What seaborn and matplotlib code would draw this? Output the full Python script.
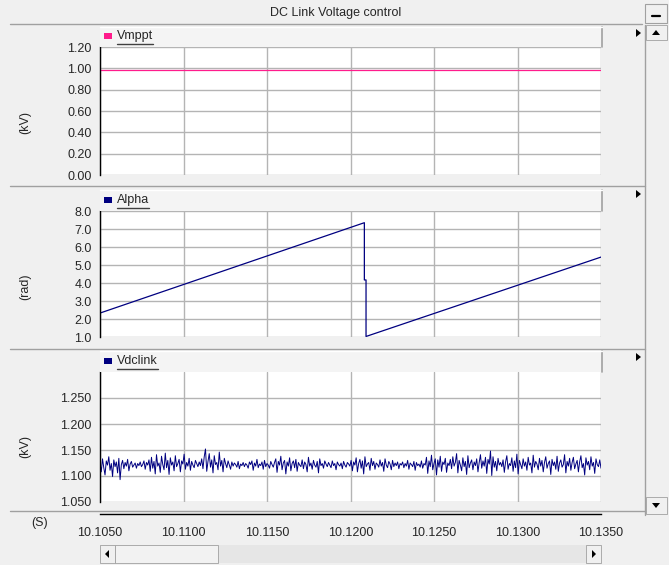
import numpy as np
import pandas as pd
import matplotlib
matplotlib.use("Agg")
import matplotlib.pyplot as plt
from matplotlib.patches import Rectangle, Polygon
from matplotlib.lines import Line2D
import seaborn as sns

# ---------------- data ----------------
title = "DC Link Voltage control"
x_ticks = [10.1050, 10.1100, 10.1150, 10.1200, 10.1250, 10.1300, 10.1350]

vmppt_t = [10.1050, 10.1350]
vmppt_v = [0.98, 0.98]

alpha_t = [10.1050, 10.12083, 10.12083, 10.12093, 10.12093, 10.1350]
alpha_v = [2.33, 7.35, 4.17, 4.17, 1.03, 5.44]

vdc_v = [
    1.125, 1.108, 1.133, 1.116, 1.102, 1.129, 1.121, 1.137, 1.111, 1.124, 1.099, 1.131, 1.118, 1.127, 1.106, 1.134, 1.093, 1.122, 1.130, 1.114,
    1.126, 1.119, 1.132, 1.110, 1.123, 1.128, 1.117, 1.121, 1.125, 1.115, 1.124, 1.120, 1.127, 1.118, 1.122, 1.129, 1.113, 1.126, 1.121, 1.131,
    1.109, 1.136, 1.115, 1.128, 1.104, 1.141, 1.119, 1.125, 1.107, 1.138, 1.122, 1.112, 1.144, 1.116, 1.130, 1.103, 1.135, 1.121, 1.127, 1.110,
    1.139, 1.118, 1.124, 1.132, 1.108, 1.129, 1.123, 1.142, 1.113, 1.126, 1.119, 1.134, 1.111, 1.128, 1.121, 1.116, 1.130, 1.124, 1.118, 1.127,
    1.120, 1.133, 1.114, 1.137, 1.152, 1.109, 1.128, 1.143, 1.117, 1.131, 1.106, 1.139, 1.122, 1.126, 1.112, 1.146, 1.119, 1.130, 1.108, 1.134,
    1.124, 1.116, 1.129, 1.121, 1.113, 1.127, 1.119, 1.125, 1.122, 1.117, 1.128, 1.114, 1.123, 1.120, 1.126, 1.118, 1.124, 1.121, 1.115, 1.127,
    1.122, 1.129, 1.111, 1.125, 1.119, 1.132, 1.116, 1.123, 1.120, 1.127, 1.113, 1.130, 1.118, 1.124, 1.121, 1.115, 1.128, 1.122, 1.117, 1.126,
    1.133, 1.107, 1.128, 1.121, 1.138, 1.112, 1.125, 1.130, 1.104, 1.127, 1.119, 1.135, 1.110, 1.124, 1.129, 1.116, 1.132, 1.109, 1.126, 1.121,
    1.118, 1.131, 1.114, 1.127, 1.122, 1.108, 1.136, 1.119, 1.125, 1.113, 1.130, 1.121, 1.117, 1.128, 1.106, 1.133, 1.120, 1.124, 1.115, 1.129,
    1.123, 1.118, 1.126, 1.121, 1.116, 1.129, 1.120, 1.124, 1.112, 1.127, 1.122, 1.119, 1.125, 1.114, 1.128, 1.121, 1.117, 1.126, 1.123, 1.119,
    1.130, 1.110, 1.127, 1.121, 1.135, 1.108, 1.124, 1.132, 1.115, 1.129, 1.104, 1.137, 1.118, 1.123, 1.126, 1.111, 1.134, 1.120, 1.128, 1.113,
    1.125, 1.122, 1.117, 1.131, 1.119, 1.126, 1.109, 1.133, 1.121, 1.116, 1.128, 1.123, 1.112, 1.130, 1.118, 1.125, 1.120, 1.127, 1.114, 1.124,
    1.121, 1.127, 1.116, 1.124, 1.119, 1.130, 1.113, 1.125, 1.122, 1.118, 1.128, 1.111, 1.126, 1.120, 1.123, 1.117, 1.129, 1.115, 1.124, 1.121,
    1.136, 1.105, 1.129, 1.118, 1.140, 1.112, 1.124, 1.133, 1.102, 1.131, 1.117, 1.138, 1.109, 1.127, 1.122, 1.134, 1.107, 1.125, 1.120, 1.132,
    1.114, 1.137, 1.119, 1.126, 1.143, 1.106, 1.130, 1.121, 1.110, 1.135, 1.118, 1.128, 1.103, 1.139, 1.116, 1.125, 1.131, 1.112, 1.127, 1.120,
    1.133, 1.108, 1.126, 1.141, 1.115, 1.129, 1.119, 1.136, 1.105, 1.132, 1.123, 1.148, 1.101, 1.137, 1.117, 1.128, 1.110, 1.134, 1.121, 1.126,
    1.118, 1.131, 1.107, 1.127, 1.139, 1.113, 1.124, 1.120, 1.135, 1.109, 1.129, 1.116, 1.142, 1.104, 1.130, 1.122, 1.114, 1.133, 1.119, 1.127,
    1.111, 1.136, 1.121, 1.125, 1.106, 1.140, 1.117, 1.128, 1.123, 1.112, 1.134, 1.119, 1.130, 1.108, 1.126, 1.137, 1.115, 1.124, 1.129, 1.103,
    1.132, 1.120, 1.127, 1.113, 1.138, 1.109, 1.125, 1.131, 1.117, 1.122, 1.141, 1.106, 1.128, 1.119, 1.134, 1.111, 1.126, 1.136, 1.114, 1.123,
    1.130, 1.108, 1.127, 1.139, 1.116, 1.124, 1.102, 1.135, 1.121, 1.128, 1.112, 1.137, 1.119, 1.126, 1.105, 1.133, 1.122, 1.118, 1.131, 1.115,
]
vdc_t = np.linspace(10.1050, 10.1350, len(vdc_v))

# ---------------- style ----------------
sns.set_style("white")
plt.rcParams["font.family"] = ["Liberation Sans", "DejaVu Sans"]
plt.rcParams["font.size"] = 9

W, H = 669, 565
BG = "#F0F0F0"
GRID = "#B4B4B4"
EDGE = "#A0A0A0"
PINK = "#FF1C8C"
NAVY = "#000080"

fig = plt.figure(figsize=(W / 100, H / 100), dpi=100, facecolor=BG)


def fx(x):
    return x / W


def fy(y):
    return 1 - y / H


def rect(x0, y0, x1, y1, fc, ec="none", lw=1.0, z=0):
    fig.patches.append(Rectangle((fx(x0), fy(y1)), fx(x1) - fx(x0), fy(y0) - fy(y1),
                                 transform=fig.transFigure, facecolor=fc,
                                 edgecolor=ec, linewidth=lw, zorder=z))


def hline(x0, x1, y, c=EDGE, lw=1.0):
    fig.lines.append(Line2D([fx(x0), fx(x1)], [fy(y), fy(y)], transform=fig.transFigure,
                            color=c, linewidth=lw))


def vline(x, y0, y1, c=EDGE, lw=1.0):
    fig.lines.append(Line2D([fx(x), fx(x)], [fy(y0), fy(y1)], transform=fig.transFigure,
                            color=c, linewidth=lw))


def tri(pts, c="black"):
    fig.patches.append(Polygon([(fx(a), fy(b)) for a, b in pts], closed=True,
                               transform=fig.transFigure, facecolor=c, edgecolor="none"))


# title bar
hline(10, 642, 24, EDGE)
fig.text(fx(336), fy(13), title, ha="center", va="center", fontsize=9)
rect(645, 4, 667, 23, BG, EDGE, 0.8)
hline(652, 660, 16, "black", 1.6)

# section dividers
for yy in (186, 349, 511):
    hline(10, 645, yy, EDGE)

# right scrollbar
vline(645, 25, 515, EDGE)
rect(646, 25, 667, 40, BG, EDGE, 0.6)
tri([(652, 35), (660, 35), (656, 30)])
rect(646, 497, 667, 514, BG, EDGE, 0.6)
tri([(652, 503), (660, 503), (656, 508)])
for yy in (33, 194, 357):
    tri([(636, yy - 4), (636, yy + 4), (641, yy)])

# bottom scrollbar
rect(100, 545, 601, 563, "#E6E6E6", "none")
rect(100, 545, 115, 563, BG, EDGE, 0.6)
rect(586, 545, 601, 563, BG, EDGE, 0.6)
rect(115, 545, 218, 563, "#F2F2F2", EDGE, 0.6)
tri([(109, 550), (109, 558), (105, 554)])
tri([(592, 550), (592, 558), (596, 554)])


def panel(top, bottom, header_top, name, color, ylim, yticks, fmt, ylabel, ylab_y,
          t, v, lw):
    # header bar
    rect(100, header_top, 602, top, "#F4F4F4", "none")
    vline(602, header_top, top, EDGE, 1.2)
    hline(100, 602, header_top, "#FFFFFF", 1.0)
    rect(104, (header_top + top) / 2 - 4, 112, (header_top + top) / 2 + 2, color)
    txt = fig.text(fx(117), fy((header_top + top) / 2 - 1), name, ha="left", va="center",
                   fontsize=9)
    fig.canvas.draw()
    bb = txt.get_window_extent()
    hline(bb.x0 / fig.dpi * 100, bb.x1 / fig.dpi * 100, top - 3, "#404040", 1.0)

    ax = fig.add_axes([fx(100), fy(bottom), fx(601) - fx(100), fy(top) - fy(bottom)])
    ax.set_facecolor("white")
    sns.lineplot(x=t, y=v, ax=ax, color=color, linewidth=lw, sort=False,
                 estimator=None)
    ax.set_xlim(x_ticks[0], x_ticks[-1])
    ax.set_ylim(*ylim)
    ax.set_xticks(x_ticks)
    ax.set_yticks(yticks)
    ax.set_yticklabels([fmt.format(y) for y in yticks])
    ax.tick_params(axis="x", length=0, labelbottom=False)
    ax.tick_params(axis="y", length=4, width=1, color="black", direction="out",
                   labelsize=9, pad=2)
    ax.grid(True, color=GRID, linewidth=1.0)
    for s in ("top", "right", "bottom"):
        ax.spines[s].set_visible(False)
    ax.spines["left"].set_color("black")
    ax.spines["left"].set_linewidth(1.0)
    ax.set_xlabel("")
    ax.set_ylabel("")
    fig.text(fx(25), fy(ylab_y), ylabel, rotation=90, ha="center", va="center",
             fontsize=9)
    return ax


panel(47, 175, 27, "Vmppt", PINK, (0.0, 1.2),
      [0.0, 0.2, 0.4, 0.6, 0.8, 1.0, 1.2], "{:.2f}", "(kV)", 123, vmppt_t, vmppt_v, 0.9)
panel(211, 337, 190, "Alpha", NAVY, (1.0, 8.0),
      [1, 2, 3, 4, 5, 6, 7, 8], "{:.1f}", "(rad)", 287, alpha_t, alpha_v, 0.9)
panel(372, 502, 351, "Vdclink", NAVY, (1.05, 1.30),
      [1.05, 1.10, 1.15, 1.20, 1.25], "{:.3f}", "(kV)", 447, vdc_t, vdc_v, 0.7)

# time axis
tax = fig.add_axes([fx(100), fy(514), fx(601) - fx(100), 0.0005])
tax.set_facecolor("none")
tax.set_xlim(x_ticks[0], x_ticks[-1])
tax.set_ylim(0, 1)
tax.set_xticks(x_ticks)
tax.set_xticklabels([f"{x:.4f}" for x in x_ticks])
tax.set_yticks([])
for s in ("top", "right", "left"):
    tax.spines[s].set_visible(False)
tax.spines["bottom"].set_color("black")
tax.spines["bottom"].set_linewidth(1.0)
tax.tick_params(axis="x", length=4, width=1, color="black", direction="out",
                labelsize=9, pad=5)
fig.text(fx(40), fy(523), "(S)", ha="center", va="center", fontsize=9)

fig.savefig("out.png", dpi=100, facecolor=BG)
